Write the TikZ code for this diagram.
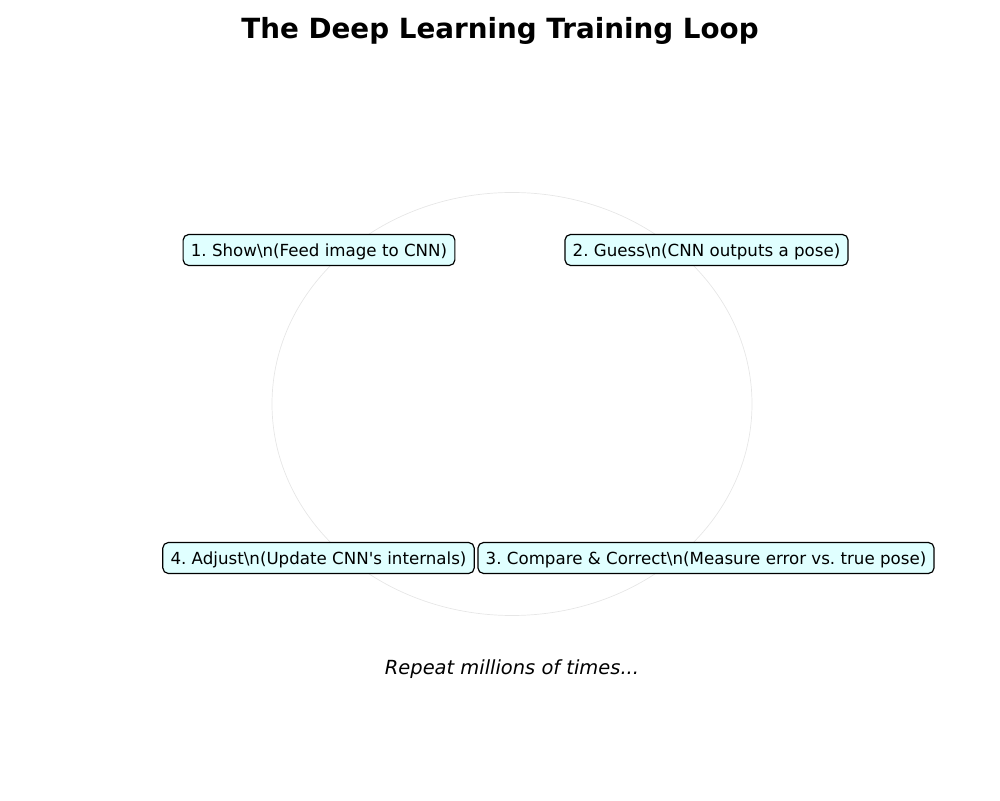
\documentclass[tikz,border=0pt]{standalone}
\usepackage{fontspec}
\setmainfont{DejaVu Sans}
\usepackage{xcolor}
\usepackage{tikz}
\usetikzlibrary{positioning}
\definecolor{looplightcyan}{HTML}{E0FFFF}
\definecolor{loopring}{HTML}{E6E6E6}
\frenchspacing

\begin{document}
\begin{tikzpicture}[
  x=0.72pt, y=0.72pt,
  stagebox/.style={draw=black, fill=looplightcyan, line width=0.85pt, rounded corners=4pt, inner xsep=5.6pt, minimum height=22.3pt, font=\fontsize{12}{14}\selectfont, text height=10.6pt, text depth=0.6pt},
  ringline/.style={draw=loopring, line width=0.5pt}
]
\useasboundingbox (0,0) rectangle (1000,800);
\node[font=\fontsize{20}{24}\selectfont\bfseries] (title) at (500,769.5) {The Deep Learning Training Loop};
\draw[ringline] (512,396) ellipse (240 and 211.5);
\node[stagebox] (show) at (319,550) {1. Show\textbackslash n(Feed image to CNN)};
\node[stagebox] (guess) at (706.5,550) {2. Guess\textbackslash n(CNN outputs a pose)};
\node[stagebox] (compare) at (706,242) {3. Compare \& Correct\textbackslash n(Measure error vs. true pose)};
\node[stagebox] (adjust) at (318.5,242) {4. Adjust\textbackslash n(Update CNN\textquotesingle s internals)};
\node[font=\fontsize{14}{17}\selectfont\itshape] (repeat) at (512,131) {Repeat millions of times...};
\end{tikzpicture}
\end{document}
